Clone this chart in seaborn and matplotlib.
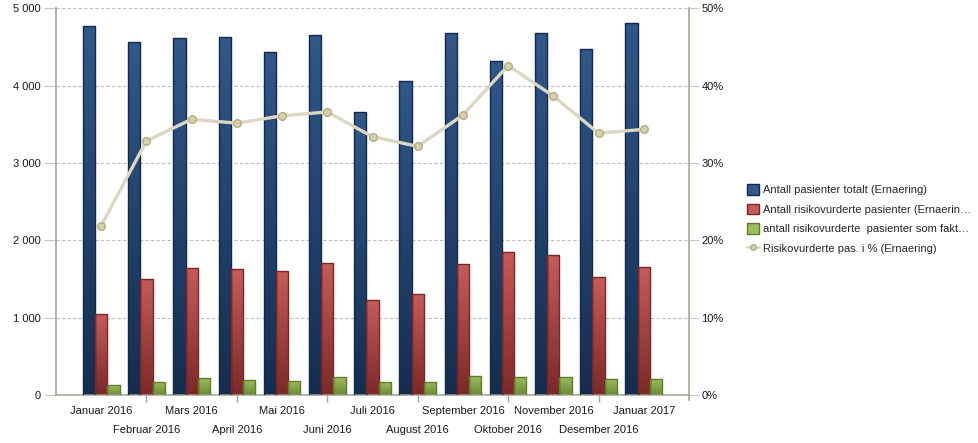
import numpy as np
import pandas as pd
import matplotlib
matplotlib.use("Agg")
import matplotlib.pyplot as plt
import seaborn as sns
from matplotlib.colors import LinearSegmentedColormap
from matplotlib.patches import Patch
from matplotlib.lines import Line2D
from matplotlib.ticker import FuncFormatter, MultipleLocator, FixedLocator, FixedFormatter

months = ["Januar 2016", "Februar 2016", "Mars 2016", "April 2016", "Mai 2016", "Juni 2016",
          "Juli 2016", "August 2016", "September 2016", "Oktober 2016", "November 2016",
          "Desember 2016", "Januar 2017"]
totalt = [4765, 4560, 4610, 4635, 4440, 4650, 3665, 4065, 4675, 4325, 4675, 4480, 4805]
risikovurderte = [1045, 1500, 1640, 1625, 1600, 1705, 1225, 1300, 1690, 1845, 1805, 1520, 1650]
tiltak = [125, 165, 215, 190, 177, 230, 165, 165, 242, 230, 230, 203, 203]
prosent = [21.9, 32.85, 35.65, 35.15, 36.1, 36.6, 33.4, 32.15, 36.2, 42.6, 38.65, 33.85, 34.35]

series_names = ["Antall pasienter totalt (Ernaering)",
                "Antall risikovurderte pasienter (Ernaerin\u2026",
                "antall risikovurderte  pasienter som fakt\u2026"]
line_name = "Risikovurderte pas. i % (Ernaering)"

top_cols = ["#30588a", "#c65c59", "#9cbd5c"]
bot_cols = ["#142d4f", "#7c2828", "#6a8a34"]
edge_cols = ["#14294a", "#7a2626", "#5f7d2c"]

df = pd.DataFrame({
    "month": months * 3,
    "value": totalt + risikovurderte + tiltak,
    "series": [series_names[0]] * 13 + [series_names[1]] * 13 + [series_names[2]] * 13,
})

sns.set_style("white")
plt.rcParams["font.family"] = ["Liberation Sans", "DejaVu Sans"]
plt.rcParams["font.size"] = 8

fig = plt.figure(figsize=(9.79, 4.43), dpi=100)
ax = fig.add_axes([56 / 979, 1 - 395 / 443, (689 - 56) / 979, (395 - 8.3) / 443])

sns.barplot(data=df, x="month", y="value", hue="series", order=months,
            hue_order=series_names, palette=top_cols, width=0.81, gap=0,
            legend=False, ax=ax, errorbar=None, saturation=1)

ax.set_ylim(0, 5000)
ax.set_xlim(-1, 13)

# gradient fill for bars
for i, container in enumerate(ax.containers):
    cmap = LinearSegmentedColormap.from_list("g%d" % i, [bot_cols[i], top_cols[i]])
    grad = np.linspace(0, 1, 256).reshape(-1, 1)
    for p in container.patches:
        x0, y0 = p.get_x(), p.get_y()
        w, h = p.get_width(), p.get_height()
        p.set_facecolor("none")
        p.set_edgecolor(edge_cols[i])
        p.set_linewidth(1.0)
        p.set_zorder(3)
        im = ax.imshow(grad, cmap=cmap, aspect="auto", origin="lower",
                       extent=[x0, x0 + w, y0, y0 + h], zorder=2)
        im.set_clip_path(p)
ax.set_xlim(-1, 13)
ax.set_ylim(0, 5000)

ax.yaxis.set_major_locator(MultipleLocator(1000))
ax.yaxis.set_major_formatter(FuncFormatter(lambda v, p: f"{int(v):,}".replace(",", " ")))
ax.grid(axis="y", color="#bdbdbd", linestyle=(0, (3, 2)), linewidth=0.8)
ax.set_axisbelow(True)
ax.set_xlabel("")
ax.set_ylabel("")

# two rows of month labels: even on major ticks, odd on minor ticks (lower row)
even_pos = list(range(0, len(months), 2))
odd_pos = list(range(1, len(months), 2))
ax.xaxis.set_major_locator(FixedLocator(even_pos))
ax.xaxis.set_major_formatter(FixedFormatter([months[i] for i in even_pos]))
ax.xaxis.set_minor_locator(FixedLocator(odd_pos))
ax.xaxis.set_minor_formatter(FixedFormatter([months[i] for i in odd_pos]))
ax.tick_params(axis="x", which="major", length=5, color="#a8a898", width=1, pad=3,
               labelsize=8, labelcolor="#1a1a1a")
ax.tick_params(axis="x", which="minor", length=5, color="#a8a898", width=1, pad=16.5,
               labelsize=8, labelcolor="#1a1a1a", bottom=True)
ax.tick_params(axis="y", length=9, color="#c8c8c8", width=0.8, pad=2, labelsize=8, labelcolor="#1a1a1a")

ax.spines["top"].set_visible(False)
ax.spines["left"].set_color("#a8a898")
ax.spines["left"].set_linewidth(1.2)
ax.spines["bottom"].set_color("#a8a898")
ax.spines["bottom"].set_linewidth(1.2)
ax.spines["right"].set_visible(False)

ax2 = ax.twinx()
sns.lineplot(x=np.arange(len(months)), y=prosent, ax=ax2, color="#dcd7c3",
             linewidth=2.4, marker="o", markersize=5.5, markerfacecolor="#d6d1ad",
             markeredgecolor="#b4ad80", markeredgewidth=1.0, zorder=5)
ax2.set_ylim(0, 50)
ax2.set_xlim(-1, 13)
ax2.yaxis.set_major_locator(MultipleLocator(10))
ax2.yaxis.set_major_formatter(FuncFormatter(lambda v, p: f"{int(v)}%"))
ax2.tick_params(axis="y", length=7, color="#c8c8c8", width=0.8, pad=2, labelsize=8, labelcolor="#1a1a1a")
for s in ["top", "left", "bottom"]:
    ax2.spines[s].set_visible(False)
ax2.spines["right"].set_color("#a8a898")
ax2.spines["right"].set_linewidth(1.2)
ax2.spines["right"].set_bounds(-0.7, 50)
ax2.set_ylabel("")

handles = [Patch(facecolor=top_cols[i], edgecolor=edge_cols[i], label=series_names[i]) for i in range(3)]
handles.append(Line2D([0], [0], color="#dcd7c3", linewidth=2, marker="o", markersize=4,
                      markerfacecolor="#d6d1ad", markeredgecolor="#b4ad80", label=line_name))
fig.legend(handles=handles, loc="center left", bbox_to_anchor=(741 / 979, 1 - 219 / 443),
           frameon=False, fontsize=8, handlelength=1.1, handleheight=1.1,
           handletextpad=0.4, labelspacing=0.75, borderpad=0)

fig.savefig("out.png", dpi=100)
